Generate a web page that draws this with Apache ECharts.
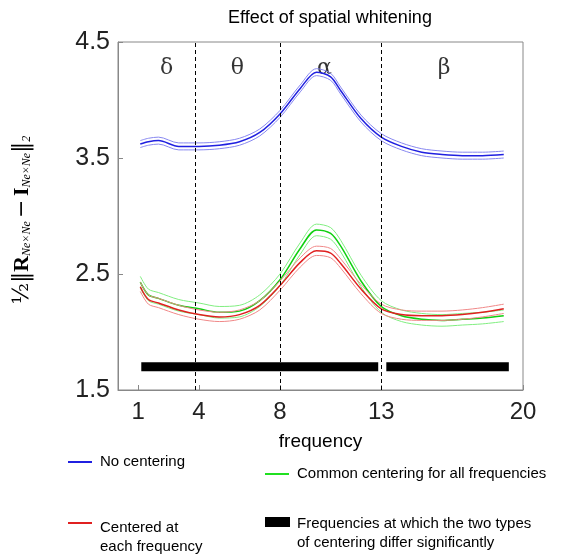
<!DOCTYPE html>
<html><head><meta charset="utf-8">
<script src="https://cdn.jsdelivr.net/npm/echarts@6/dist/echarts.min.js"></script>
<style>html,body{margin:0;padding:0;background:#fff}#c{width:587px;height:558px}</style>
</head><body><div id="c"></div>
<script>
const freqs = [1.1,1.5,2,3,4,5,6,7,8,9,9.8,10.5,11,12,13,14,15,16,17,18,19.05];
const noCentering = [3.62,3.64,3.65,3.60,3.60,3.61,3.64,3.72,3.88,4.10,4.24,4.20,4.08,3.84,3.68,3.60,3.55,3.53,3.52,3.52,3.53];
const commonCentering = [2.43,2.32,2.29,2.23,2.20,2.17,2.18,2.27,2.45,2.72,2.88,2.85,2.74,2.44,2.22,2.14,2.11,2.10,2.11,2.12,2.14];
const eachCentering = [2.39,2.28,2.25,2.19,2.15,2.13,2.15,2.23,2.40,2.60,2.70,2.68,2.59,2.37,2.20,2.15,2.14,2.14,2.15,2.17,2.20];
const bandBlue = 0.03, bandGreen = 0.05, bandRed = 0.04;
const sigSegments = [[1.15,12.85],[13.25,19.3]];
const sigLevel = 1.7;
const bandEdges = [3.8, 8, 13];
const bandNames = [['δ',2.4],['θ',5.9],['α',10.2],['β',16.1]];
const xTicks = [1,4,8,13,20];
const yTicks = [1.5,2.5,3.5,4.5];

const mk = (arr, off) => freqs.map((f,i)=>[f, +(arr[i]+off).toFixed(3)]);
const line = (data, color, w) => ({type:'line', data, symbol:'none', smooth:0.3, silent:true, lineStyle:{color, width:w}, z:3});
const series = [];
[[noCentering,'#2020e0','#8888f0',bandBlue],[commonCentering,'#10d010','#80ee80',bandGreen],[eachCentering,'#e02020','#f08888',bandRed]].forEach(([a,c,l,b])=>{
  series.push(line(mk(a,b),l,1), line(mk(a,-b),l,1), line(mk(a,0),c,1.5));
});
sigSegments.forEach(s=>series.push({type:'line',symbol:'none',silent:true,data:[[s[0],sigLevel],[s[1],sigLevel]],lineStyle:{color:'#000',width:9},z:4}));
series.push({type:'scatter',symbolSize:0,silent:true,data:bandNames.map(b=>[b[1],4.27,b[0]]),
  label:{show:true,formatter:p=>p.data[2],fontSize:22,fontFamily:'DejaVu Serif',color:'#000'},
  markLine:{symbol:'none',silent:true,label:{show:false},lineStyle:{type:[4,3],color:'#000',width:1},data:bandEdges.map(x=>({xAxis:x}))}});

const chart = echarts.init(document.getElementById('c'));
chart.setOption({
  animation:false,
  title:{text:'Effect of spatial whitening',left:325,top:4,textAlign:'center',textStyle:{fontFamily:'Liberation Sans',fontWeight:'normal',fontSize:18,color:'#000'}},
  grid:{left:118,right:64,top:42,bottom:168},
  xAxis:{type:'value',min:0,max:20,name:'frequency',nameLocation:'middle',nameGap:42,
    nameTextStyle:{fontSize:19,fontFamily:'Liberation Sans',color:'#000'},
    axisLine:{lineStyle:{color:'#888'}},splitLine:{show:false},
    axisTick:{customValues:xTicks,inside:true,length:5,lineStyle:{color:'#888'}},
    axisLabel:{customValues:xTicks,fontSize:24,fontFamily:'Liberation Sans',color:'#222',margin:10}},
  yAxis:{type:'value',min:1.5,max:4.5,splitLine:{show:false},
    axisLine:{show:true,lineStyle:{color:'#888'}},
    axisTick:{customValues:yTicks,inside:true,length:5,lineStyle:{color:'#888'}},
    axisLabel:{customValues:yTicks,fontSize:25,fontFamily:'Liberation Sans',color:'#222',margin:8}},
  graphic:[
    {type:'rect',shape:{x:118,y:42,width:405,height:348},style:{fill:'none',stroke:'#888',lineWidth:1},silent:true},
    {type:'text',x:22,y:220,rotation:Math.PI/2,style:{text:'{s|½}{b|‖}{R|R}{sub|Ne×Ne} {b|−} {R|I}{sub|Ne×Ne}{b|‖}{sub|2}',align:'center',verticalAlign:'middle',
      rich:{s:{fontSize:22,fontFamily:'DejaVu Serif'},b:{fontSize:22,fontFamily:'DejaVu Serif'},R:{fontSize:22,fontWeight:'bold',fontFamily:'Liberation Serif'},sub:{fontSize:12,fontStyle:'italic',fontFamily:'Liberation Serif',verticalAlign:'bottom',padding:[8,0,0,0]}}}},
    {type:'line',shape:{x1:68,y1:462,x2:92,y2:462},style:{stroke:'#2020e0',lineWidth:2}},
    {type:'text',x:100,y:462,style:{text:'No centering',fontSize:15,fontFamily:'Liberation Sans',verticalAlign:'middle',fill:'#000'}},
    {type:'line',shape:{x1:265,y1:474,x2:289,y2:474},style:{stroke:'#20e020',lineWidth:2}},
    {type:'text',x:297,y:474,style:{text:'Common centering for all frequencies',fontSize:15,fontFamily:'Liberation Sans',verticalAlign:'middle',fill:'#000'}},
    {type:'line',shape:{x1:68,y1:523,x2:92,y2:523},style:{stroke:'#e02020',lineWidth:2}},
    {type:'text',x:100,y:537,style:{text:'Centered at\neach frequency',fontSize:15,lineHeight:19,fontFamily:'Liberation Sans',verticalAlign:'middle',fill:'#000'}},
    {type:'rect',shape:{x:265,y:517,width:25,height:10},style:{fill:'#000'}},
    {type:'text',x:297,y:533,style:{text:'Frequencies at which the two types\nof centering differ significantly',fontSize:15,lineHeight:19,fontFamily:'Liberation Sans',verticalAlign:'middle',fill:'#000'}}
  ],
  series
});
</script></body></html>
